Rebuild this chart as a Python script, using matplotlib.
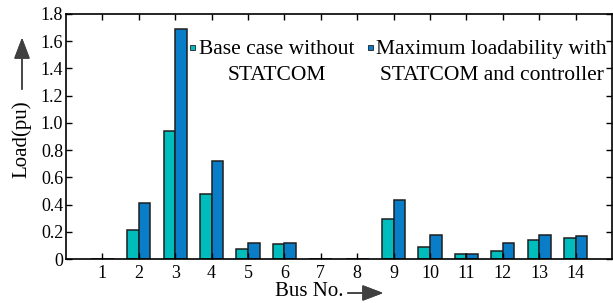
import matplotlib.pyplot as plt
import numpy as np
from matplotlib.legend_handler import HandlerPatch
from matplotlib.patches import Rectangle
from matplotlib.container import BarContainer

bus = [1, 2, 3, 4, 5, 6, 7, 8, 9, 10, 11, 12, 13, 14]
base_case = [0, 0.21, 0.94, 0.48, 0.076, 0.108, 0, 0, 0.295, 0.09, 0.034, 0.061, 0.137, 0.152]
max_load = [0, 0.41, 1.69, 0.72, 0.12, 0.115, 0, 0, 0.434, 0.174, 0.035, 0.115, 0.18, 0.167]
labels = ["Base case without\nSTATCOM", "Maximum loadability with\nSTATCOM and controller"]

plt.rcParams['font.family'] = ['Liberation Serif', 'DejaVu Serif']
plt.rcParams['font.size'] = 13

TEAL = '#00BDBD'
BLUE = '#0A7DC8'

fig = plt.figure(figsize=(6.13, 3.03), dpi=100)
ax = fig.add_axes([66/613, 44/303, 546/613, 245/303])

x = np.array(bus)
w = 0.32
ax.bar(x - w/2, base_case, w, color=TEAL, edgecolor='#1e1e1e', linewidth=1.1, label=labels[0])
ax.bar(x + w/2, max_load, w, color=BLUE, edgecolor='#1e1e1e', linewidth=1.1, label=labels[1])

ax.set_xlim(0, 15)
ax.set_ylim(0, 1.8)
ax.set_xticks(bus)
ax.set_yticks(np.arange(0, 1.81, 0.2))
ax.set_yticklabels(['0'] + ['%.1f' % v for v in np.arange(0.2, 1.81, 0.2)])
ax.tick_params(direction='in', top=True, right=True, length=4, width=1, labelsize=13, pad=4)
ax.tick_params(axis='y', pad=2)
for s in ax.spines.values():
    s.set_linewidth(1.2)


# small square legend key next to the first text line
def small_square(legend, orig_handle, xdescent, ydescent, width, height, fontsize):
    return Rectangle((0, 0.9 * fontsize), 3.6, 3.6)


def copy_first(handle, orig):
    handle.update_from(orig.patches[0])
    handle.set_linewidth(0.6)


leg = ax.legend(ncol=2, frameon=False, loc='upper left', bbox_to_anchor=(0.228, 0.895),
                handlelength=0.3, handletextpad=0.1, columnspacing=0.6,
                fontsize=15.5, borderaxespad=0, borderpad=0,
                handler_map={BarContainer: HandlerPatch(patch_func=small_square,
                                                        update_func=copy_first)})
for t in leg.get_texts():
    t.set_multialignment('center')
    t.set_linespacing(1.55)

# axis labels with arrows
fig.text(22/613, 1 - 139/303, 'Load(pu)', rotation=90, ha='center', va='center', fontsize=15)
fig.text(309/613, 1 - 291/303, 'Bus No.', ha='center', va='center', fontsize=15)
arrow = dict(arrowstyle='-|>,head_length=1.0,head_width=0.38', color='#404040', lw=1.1)
fig.add_artist(plt.annotate('', xy=(22/613, 1 - 35/303), xytext=(22/613, 1 - 92/303),
                            xycoords='figure fraction', arrowprops=arrow))
fig.add_artist(plt.annotate('', xy=(386/613, 1 - 293/303), xytext=(345/613, 1 - 293/303),
                            xycoords='figure fraction', arrowprops=arrow))

fig.savefig('out.png', dpi=100)
